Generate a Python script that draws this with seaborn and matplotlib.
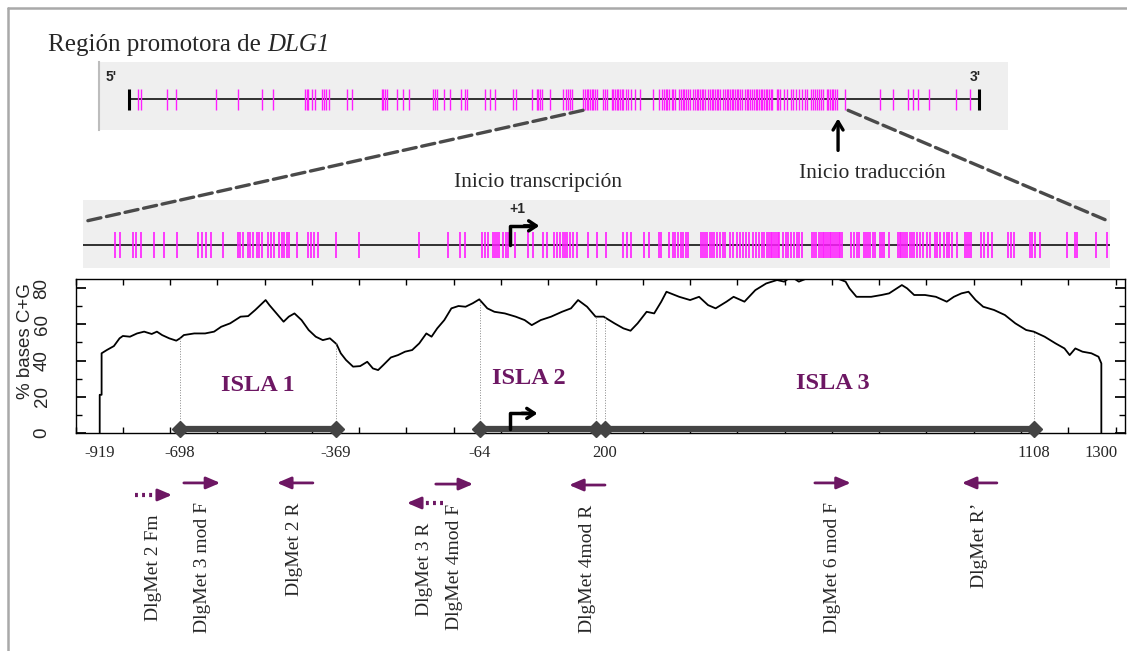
import numpy as np
import matplotlib.pyplot as plt
from matplotlib.patches import ConnectionPatch
from matplotlib.lines import Line2D
import seaborn as sns

# ---------------- data ----------------
# positions in bp relative to the transcription start (+1)

# CpG sites along the whole promoter schematic (top bar)
top_ends = [-4625, 2345]          # 5' and 3' ends
atg_pos = 1187                    # Inicio traducción
top_cpg = [-4548, -4529, -4316, -4239, -3911, -3734, -3537, -3447,
           -3182, -3168, -3155, -3127, -3100, -3040, -3026, -3010, -2983,
           -2840, -2799, -2553, -2540, -2526, -2512, -2425, -2376, -2327,
           -2130, -2116, -2102, -2040, -1993, -1903, -1870, -1856,
           -1706, -1665, -1624, -1474, -1455, -1324, -1283, -1270, -1256,
           -1237, -1174, -1065, -1043, -1024, -1010, -991,
           -901, -887, -873, -860, -846, -831, -818, -804, -791,
           -742, -723, -704, -668, -655, -641, -627, -614, -600, -586,
           -573, -551, -532, -512, -477, -436, -332, -278, -258, -239,
           -223, -212, -196, -176, -163, -149, -114, -102, -86, -75, -59,
           -40, -26, 1, 15, 29, 42, 56, 70, 83, 97, 124, 138, 152, 165,
           179, 193, 206, 220, 247, 261, 275, 288, 302, 316, 329, 343,
           357, 370, 384, 398, 425, 439, 452, 466, 480, 499, 513, 526,
           540, 553, 567, 581, 594, 608, 622, 636, 649, 685, 698, 712,
           745, 767, 800, 821, 843, 870, 890, 917, 936, 964, 980, 999,
           1013, 1027, 1046, 1067, 1095, 1108, 1122, 1136, 1149, 1163,
           1176, 1245, 1531, 1640, 1763, 1804, 1845, 1935, 2154, 2269]

# zoomed window (middle bar), same scale as the GC plot
win = [-903, 1269]
mid_cpg = [-836, -825, -798, -790, -781, -753, -732, -705, -660, -652,
           -643, -633, -607, -575, -570, -565, -555, -550, -544, -536,
           -531, -525, -512, -506, -499, -489, -483, -478, -472, -467,
           -451, -427, -420, -415, -406, -368, -320, -193, -131, -106,
           -95, -59, -53, -47, -36, -32, -28, -23, -15, -8, -4, 11, 38,
           49, 70, 78, 93, 99, 106, 112, 116, 121, 127, 133, 142, 165,
           185, 204, 240, 248, 257, 283, 295, 316, 320, 336, 344, 349,
           355, 361, 366, 372, 376, 404, 408, 412, 417, 423, 427, 432,
           438, 444, 450, 455, 465, 471, 480, 487, 493, 499, 505, 514,
           520, 527, 533, 538, 544, 548, 552, 555, 559, 563, 567, 570,
           578, 583, 589, 595, 601, 606, 612, 617, 638, 644, 648, 654,
           657, 661, 665, 669, 672, 676, 680, 684, 688, 691, 695, 699,
           703, 722, 727, 733, 739, 749, 754, 757, 762, 767, 771, 782,
           786, 790, 802, 820, 824, 827, 831, 835, 839, 846, 850, 854,
           861, 867, 873, 882, 888, 899, 903, 910, 918, 925, 929, 935,
           946, 963, 967, 971, 975, 997, 1003, 1012, 1020, 1054, 1059,
           1067, 1099, 1103, 1111, 1122, 1179, 1194, 1200, 1239, 1262]

# % G+C along the sequence (window centres)
seq_range = [-919, 1300]
gc_window = 100
gc_pos = [-868, -868, -864, -864, -853, -838, -826, -819, -804, -789,
          -774, -758, -747, -736, -721, -706, -698, -690, -668, -645,
          -626, -611, -592, -570, -554, -539, -524, -517, -509, -494,
          -479, -468, -456, -441, -426, -411, -396, -381, -367, -358,
          -347, -332, -317, -302, -290, -279, -268, -252, -237, -222,
          -207, -192, -177, -166, -154, -139, -124, -109, -94, -79, -65,
          -48, -33, -11, 12, 31, 46, 65, 87, 110, 129, 144, 163, 181,
          198, 221, 240, 255, 270, 289, 305, 320, 331, 358, 381, 400,
          419, 435, 458, 473, 496, 519, 542, 565, 580, 595, 611, 633,
          656, 687, 710, 718, 733, 764, 786, 802, 829, 840, 855, 878,
          901, 924, 939, 955, 970, 985, 1001, 1024, 1047, 1069, 1092,
          1108, 1131, 1154, 1173, 1184, 1196, 1211, 1230, 1245, 1251, 1251]
gc_val = [0, 21, 21, 44, 45.8, 48, 52.3, 53.6, 53.2, 55, 56, 54.7, 56,
          54.1, 52.3, 51, 52.3, 54.1, 55, 55, 56, 58.7, 60.6, 64.3, 64.6,
          68, 71.7, 73.5, 70.7, 66.1, 61.5, 64.3, 66.1, 62.4, 56.9, 53.2,
          51.3, 52.3, 49.1, 44, 40.3, 36.6, 36.9, 39.3, 35.6, 34.7, 37.5,
          41.7, 43, 44.9, 45.8, 49.5, 55, 53.2, 57.8, 62.4, 68.9, 70.2,
          69.8, 71.7, 73.9, 68.9, 67, 66.1, 64.3, 62.4, 59.6, 62.4, 64.3,
          67, 68.9, 73.5, 69.8, 64.3, 64.3, 60.6, 57.8, 56.5, 60.6, 67,
          66.1, 72.6, 78.1, 75.3, 73.5, 75.3, 70.7, 68.9, 72.6, 75.3,
          72.6, 79, 82.7, 84.6, 83.7, 86.5, 83.7, 86, 86.5, 86, 83.7, 80,
          75.3, 75.3, 76.3, 77.2, 81.8, 80, 76.3, 76.3, 75.3, 72.6, 75.3,
          77.2, 78.1, 73.5, 69.8, 68, 65.2, 60.6, 56.9, 56, 53.2, 49.5,
          46.7, 43, 46.7, 44.9, 44, 42.1, 38.4, 0]

islands = ['ISLA 1', 'ISLA 2', 'ISLA 3']
island_start = [-698, -64, 200]
island_end = [-369, 181, 1108]
edge_values = [-698, -369, -64, 200, 1108]

primer_names = ['DlgMet 2 Fm', 'DlgMet 3 mod F', 'DlgMet 2 R', 'DlgMet 3 R',
                'DlgMet 4mod F', 'DlgMet 4mod R', 'DlgMet 6 mod F', 'DlgMet R’']
primer_5p = [-793, -690, -417, -142, -157, 201, 645, 1030]
primer_3p = [-715, -613, -493, -218, -78, 125, 721, 956]
primer_dotted = [True, False, False, True, False, False, False, False]

# ---------------- style ----------------
sns.set_theme(style='white')
serif = ['Liberation Serif', 'DejaVu Serif']
sans = ['Liberation Sans', 'DejaVu Sans']
plt.rcParams['font.family'] = serif
magenta = '#ff1eff'
purple = '#6d1763'
bar_grey = '#efefef'

W, H = 1127, 651
fig = plt.figure(figsize=(W / 100, H / 100), dpi=100)


def rect(x0, y0, x1, y1):
    # pixel box -> figure fraction
    return [x0 / W, 1 - y1 / H, (x1 - x0) / W, (y1 - y0) / H]


# page frame
fig.add_artist(Line2D([8 / W, 1], [1 - 8 / H, 1 - 8 / H], color='#a9a9a9', lw=1.8))
fig.add_artist(Line2D([8 / W, 8 / W], [0, 1 - 8 / H], color='#a9a9a9', lw=1.8))

# title
t1 = fig.text(48 / W, 1 - 51 / H, 'Región promotora de', fontsize=18, va='baseline')
fig.canvas.draw()
bb = t1.get_window_extent()
fig.text((bb.x1 + 6) / W, 1 - 51 / H, 'DLG1', fontsize=18, style='italic', va='baseline')

# ---- top bar: whole promoter ----
ax_top = fig.add_axes(rect(99, 62, 1008, 130))
ax_top.set_facecolor(bar_grey)
ax_top.set_xlim(-4871, 2580)
ax_top.set_ylim(0, 1)
ax_top.hlines(0.45, top_ends[0], top_ends[1], color='#222222', lw=1.3)
ax_top.vlines(top_cpg, 0.30, 0.60, color=magenta, lw=1.0)
ax_top.vlines(top_ends, 0.30, 0.60, color='black', lw=2.2)
for x, lab, dx in zip(top_ends, ["5'", "3'"], [-13, -3]):
    ax_top.annotate(lab, (x, 0.60), xytext=(dx, 9), textcoords='offset points',
                    ha='center', va='center', fontsize=10, fontweight='bold', family=sans)
ax_top.annotate('', xy=(atg_pos, 0.17), xytext=(atg_pos, -0.30),
                arrowprops=dict(arrowstyle='->,head_length=0.5,head_width=0.3',
                                lw=2.4, color='black', shrinkA=0, shrinkB=0),
                annotation_clip=False)
ax_top.text(atg_pos + 280, -0.64, 'Inicio traducción', ha='center', va='center',
            fontsize=15.5)
ax_top.set_xticks([])
ax_top.set_yticks([])
for s in ['top', 'right', 'bottom']:
    ax_top.spines[s].set_visible(False)
ax_top.spines['left'].set_color('#bdbdbd')
ax_top.spines['left'].set_linewidth(1.5)

# ---- middle bar: zoomed window ----
ax_mid = fig.add_axes(rect(83, 200, 1110, 268))
ax_mid.set_facecolor(bar_grey)
ax_mid.set_xlim(win)
ax_mid.set_ylim(0, 1)
ax_mid.axhline(0.338, color='#222222', lw=1.3)
ax_mid.vlines(mid_cpg, 0.143, 0.534, color=magenta, lw=1.2)
ax_mid.plot([1, 1, 40], [0.338, 0.62, 0.62], color='black', lw=2.5)
ax_mid.annotate('', xy=(62, 0.62), xytext=(30, 0.62),
                arrowprops=dict(arrowstyle='->,head_length=0.45,head_width=0.3',
                                lw=2.5, color='black', shrinkA=0, shrinkB=0))
ax_mid.text(15, 0.87, '+1', ha='center', va='center', fontsize=10,
            fontweight='bold', family=sans)
ax_mid.text(59, 1.25, 'Inicio transcripción', ha='center', va='center',
            fontsize=15.5, clip_on=False)
ax_mid.set_xticks([])
ax_mid.set_yticks([])
for s in ax_mid.spines.values():
    s.set_visible(False)

# dashed zoom lines
for x in win:
    con = ConnectionPatch(xyA=(x, 0.29), coordsA=ax_top.transData,
                          xyB=(x, 0.68), coordsB=ax_mid.transData,
                          color='#4a4a4a', lw=2.4, linestyle=(0, (4, 1.7)))
    fig.add_artist(con)

# ---- GC plot ----
ax = fig.add_axes(rect(75.6, 279.3, 1124.5, 432.7))
sns.lineplot(x=gc_pos, y=gc_val, sort=False, estimator=None, color='black',
             lw=1.3, ax=ax)
ax.set_xlim(seq_range)
ax.set_ylim(0, 85)

bar_y = 1.9
label_x = [-533, 40, 683]
label_y = [26.4, 30.3, 27.5]
for name, s, e, lx, ly in zip(islands, island_start, island_end, label_x, label_y):
    for x in (s, e):
        ax.vlines(x, bar_y, np.interp(x, gc_pos, gc_val), color='#888888',
                  lw=0.7, linestyle=':')
    ax.plot([s, e], [bar_y, bar_y], color='#444444', lw=4.5,
            solid_capstyle='butt', zorder=3, clip_on=False)
    ax.plot([s, e], [bar_y, bar_y], 'D', color='#444444', ms=8, zorder=4,
            clip_on=False)
    ax.text(lx, ly, name, ha='center', va='center', fontsize=17.5,
            fontweight='bold', color=purple)

ax.plot([1, 1, 35], [bar_y, 10.7, 10.7], color='black', lw=2.5, zorder=5)
ax.annotate('', xy=(58, 10.7), xytext=(25, 10.7),
            arrowprops=dict(arrowstyle='->,head_length=0.45,head_width=0.3',
                            lw=2.5, color='black', shrinkA=0, shrinkB=0))

tick_pos = [seq_range[0] + gc_window // 2] + edge_values + [seq_range[1] - gc_window // 2]
tick_lab = [str(seq_range[0])] + [str(v) for v in edge_values] + [str(seq_range[1])]
ax.set_xticks(tick_pos, tick_lab)
ax.set_xticks(np.arange(seq_range[0], seq_range[1] + 1, 100), minor=True)
ax.tick_params(axis='x', which='major', length=0, pad=9, labelsize=12)
ax.tick_params(axis='x', which='minor', direction='in', length=4, top=True,
               bottom=True, color='black')
ax.set_yticks([0, 20, 40, 60, 80])
ax.set_yticks(np.arange(0, 86, 10), minor=True)
ax.tick_params(axis='y', which='both', direction='in', left=True, right=True,
               color='black')
ax.tick_params(axis='y', which='major', length=7, pad=18, labelsize=13.5)
ax.tick_params(axis='y', which='minor', length=4)
for t in ax.get_yticklabels():
    t.set_rotation(90)
    t.set_va('center')
    t.set_family(sans)
ax.set_xlabel('')
ax.set_ylabel('% bases C+G', fontsize=13.5, family=sans)
ax.yaxis.set_label_coords(-0.040, 0.6)
for s in ax.spines.values():
    s.set_color('black')
    s.set_linewidth(1.0)

# ---- primers ----
ax_pr = fig.add_axes(rect(75.6, 460, 1124.5, 651))
ax_pr.set_xlim(seq_range)
ax_pr.set_ylim(0, 1)
ax_pr.axis('off')
arrow_y = [0.817, 0.88, 0.88, 0.775, 0.874, 0.869, 0.88, 0.88]
head = dict(arrowstyle='-|>,head_length=0.7,head_width=0.3', lw=2.0,
            color=purple, shrinkA=0, shrinkB=0)
for name, p5, p3, dotted, y in zip(primer_names, primer_5p, primer_3p,
                                   primer_dotted, arrow_y):
    step = np.sign(p3 - p5)
    if dotted:
        ax_pr.plot([p5, p3 - step * 18], [y, y], color=purple, lw=3.0,
                   linestyle=(0, (0.7, 1.0)), dash_capstyle='butt')
        ax_pr.annotate('', xy=(p3, y), xytext=(p3 - step * 20, y), arrowprops=head)
    else:
        ax_pr.annotate('', xy=(p3, y), xytext=(p5, y), arrowprops=head)
    ax_pr.annotate(name, ((p5 + p3) / 2, y), xytext=(0, -14),
                   textcoords='offset points', rotation=90, ha='center',
                   va='top', fontsize=14)

fig.savefig('out.png', dpi=100)
